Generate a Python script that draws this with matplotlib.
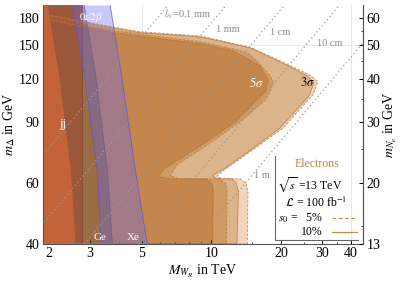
import numpy as np
import matplotlib
matplotlib.use('Agg')
import matplotlib.pyplot as plt
from matplotlib.ticker import FixedLocator, NullFormatter

plt.rcParams['font.family'] = ['Liberation Serif', 'DejaVu Serif']
plt.rcParams['mathtext.fontset'] = 'stix'

# sensitivity contours, M_WR in TeV, m_Delta in GeV
s3_5_M = [1.88, 3.32, 4.93, 8.96, 14.7, 20.4, 26.7, 28.8, 27.5, 20.4, 14.7, 11.7, 10.6, 11.1, 13.3, 14.1, 14.4, 14.3, 1.88]
s3_5_m = [185, 172, 164, 159.6, 148, 134, 123, 117.6, 108, 86.5, 73.8, 66.3, 62.9, 61.7, 61.7, 60.0, 56.5, 40, 40]

s3_10_M = [1.88, 3.32, 4.93, 8.96, 14.7, 20.4, 25.9, 27.7, 26.4, 19.8, 14.4, 11.5, 10.1, 10.6, 12.3, 12.8, 13.1, 12.9, 1.88]
s3_10_m = [184, 170.6, 163, 158.6, 147.4, 133, 122.4, 116.8, 107.1, 86.5, 73.8, 66.3, 62.9, 61.7, 61.7, 60.0, 56.5, 40, 40]

s5_5_M = [1.88, 3.85, 8.96, 12.4, 14.3, 16.2, 17.9, 18.5, 17.9, 17.1, 13.3, 9.60, 7.12, 6.65, 7.34, 10.9, 11.6, 11.7, 11.6, 1.88]
s5_5_m = [181, 165.1, 153.4, 146.4, 143, 132.5, 122.4, 117.6, 110.0, 104, 90.1, 77.3, 67.7, 62.9, 61.7, 61.7, 59.6, 56.5, 40, 40]

s5_10_M = [1.88, 3.85, 8.96, 12.4, 16.2, 17.6, 17.2, 15.9, 12.7, 8.96, 6.32, 5.84, 6.65, 9.50, 10.1, 10.2, 10.1, 1.88]
s5_10_m = [178.8, 163, 151.4, 144.5, 130.7, 119, 110.7, 105.0, 90.1, 76.8, 66.3, 62.5, 61.7, 61.7, 59.6, 56.5, 40, 40]

# dijet bound and 0nu2beta bands
jj_M_max = 2.77
band_m = [40, 65.5, 119, 196]
ge_left = [2.61, 2.49, 2.23, 1.98]
ge_right = [3.74, 3.56, 3.19, 2.83]
xe_left = [3.35, 3.22, 2.86, 2.51]
xe_right = [5.29, 4.70, 4.13, 3.66]

# decay length lines (end points at m_Delta = 40 and 196 GeV)
decay_labels = ['$l_N$=0.1 mm', '1 mm', '1 cm', '10 cm', '1 m']
decay_M_lo = [0.896, 1.59, 2.84, 4.90, 8.46]
decay_M_hi = [6.53, 11.6, 20.7, 35.7, 61.7]
decay_m_ends = [40, 196]
decay_label_M = [7.9, 11.8, 19.8, 32.5, 16.6]
decay_label_m = [184, 166, 163, 152, 62.9]

x_ticks = [2, 3, 5, 10, 20, 30, 40]
y_ticks = [40, 60, 90, 120, 150, 180]
yr_ticks = [40 / 3, 20, 30, 40, 50, 60]
yr_labels = ['13', '20', '30', '40', '50', '60']

fig = plt.figure(figsize=(4.0, 2.82), dpi=100)
ax = fig.add_axes([43 / 400, 1 - 244 / 282, 320 / 400, 239 / 282])
ax.set_xscale('log')
ax.set_yscale('log')
ax.set_xlim(1.88, 45.1)
ax.set_ylim(40, 196)

# faint grid lines that show in the white parts
for gx in [5, 40]:
	ax.axvline(gx, color='#e8e8e8', lw=0.7, zorder=0)
ax.axhline(150, color='#e8e8e8', lw=0.7, zorder=0)

contours = [(s3_5_M, s3_5_m, '#eed5bc', '--'),
			(s3_10_M, s3_10_m, '#dcb48c', '-'),
			(s5_5_M, s5_5_m, '#cf9a63', '--'),
			(s5_10_M, s5_10_m, '#c4864c', '-')]
for cm, cy, col, ls in contours:
	ax.fill(cm, cy, color=col, lw=0, zorder=1)
for cm, cy, col, ls in contours:
	ax.plot(cm, cy, color='#b87436', lw=0.6, ls=ls, dashes=(3, 2) if ls == '--' else (None, None),
			alpha=0.8, zorder=5)

ax.axvspan(1.0, jj_M_max, color='#c4623a', lw=0, zorder=2)
ax.axvline(jj_M_max, color='#9a4a2c', lw=0.6, zorder=2)
ax.fill_betweenx(band_m, ge_left, ge_right, color='#5a463c', alpha=0.38, lw=0, zorder=3)
ax.plot(ge_left, band_m, color='#5a463c', lw=0.5, alpha=0.5, zorder=3)
ax.plot(ge_right, band_m, color='#5a463c', lw=0.5, alpha=0.5, zorder=3)
ax.fill_betweenx(band_m, xe_left, xe_right, color='#6767f2', alpha=0.36, lw=0, zorder=3)
ax.plot(xe_left, band_m, color='#5555e0', lw=0.6, alpha=0.7, zorder=3)
ax.plot(xe_right, band_m, color='#5555e0', lw=0.6, alpha=0.7, zorder=3)

for lo, hi in zip(decay_M_lo, decay_M_hi):
	ax.plot([lo, hi], decay_m_ends, color='#999999', lw=0.9, ls=(0, (1, 2.2)), zorder=6)
for lab, lm, ly in zip(decay_labels, decay_label_M, decay_label_m):
	ax.text(lm, ly, lab, color='#8c8c8c', fontsize=7.5, ha='center', va='center', zorder=7)

ax.text(15.6, 116.8, r'$5\sigma$', color='white', fontsize=9, ha='center', va='center', zorder=7)
ax.text(26.1, 116.8, r'$3\sigma$', color='black', fontsize=9, ha='center', va='center', zorder=7)
ax.text(3.03, 181, r'$0\nu2\beta$', color='white', fontsize=8, ha='center', va='center', zorder=7)
ax.text(2.28, 88.9, 'jj', color='white', fontsize=9, ha='center', va='center', zorder=7)
ax.text(3.32, 41.9, 'Ge', color='white', fontsize=8, ha='center', va='center', zorder=7)
ax.text(4.60, 41.9, 'Xe', color='white', fontsize=8, ha='center', va='center', zorder=7)

# legend box
ax.plot([0.725, 0.725, 0.985], [0.368, 0.017, 0.017], color='#666666', lw=0.8,
		transform=ax.transAxes, zorder=8)
ax.text(0.856, 0.335, 'Electrons', color='#c68040', fontsize=8.5, ha='center', va='center',
		transform=ax.transAxes, zorder=8)
ax.text(0.834, 0.247, r'$\sqrt{s}$ =13 TeV', fontsize=8.5, ha='center', va='center',
		transform=ax.transAxes, zorder=8)
ax.text(0.853, 0.172, r'$\mathcal{L}$ = 100 fb$^{-1}$', fontsize=8.5, ha='center', va='center',
		transform=ax.transAxes, zorder=8)
ax.text(0.875, 0.109, r'$s_0$ =   5%', fontsize=8.5, ha='right', va='center',
		transform=ax.transAxes, zorder=8)
ax.text(0.875, 0.05, '10%', fontsize=8.5, ha='right', va='center',
		transform=ax.transAxes, zorder=8)
ax.plot([0.903, 0.981], [0.109, 0.109], color='#d08a48', lw=0.9, dashes=(3, 2),
		transform=ax.transAxes, zorder=8)
ax.plot([0.903, 0.981], [0.05, 0.05], color='#d08a48', lw=0.9,
		transform=ax.transAxes, zorder=8)

ax.spines['top'].set_visible(False)
for s in ['left', 'bottom', 'right']:
	ax.spines[s].set_color('#555555')
	ax.spines[s].set_linewidth(0.8)
	ax.spines[s].set_zorder(10)

ax.xaxis.set_major_locator(FixedLocator(x_ticks))
ax.xaxis.set_ticklabels([str(t) for t in x_ticks])
ax.xaxis.set_minor_locator(FixedLocator([2.5, 4, 6, 7, 8, 9, 15, 25, 35]))
ax.xaxis.set_minor_formatter(NullFormatter())
ax.yaxis.set_major_locator(FixedLocator(y_ticks))
ax.yaxis.set_ticklabels([str(t) for t in y_ticks])
ax.yaxis.set_minor_locator(FixedLocator([50, 70, 80, 100, 110, 130, 140, 160, 170, 190]))
ax.yaxis.set_minor_formatter(NullFormatter())
ax.tick_params(which='both', direction='in', labelsize=10, top=False, right=False)
ax.tick_params(which='major', length=3, width=0.7, pad=2.5)
ax.tick_params(which='minor', length=1.5, width=0.5)

ax2 = ax.twinx()
ax2.set_yscale('log')
ax2.set_ylim(40 / 3, 196 / 3)
ax2.yaxis.set_major_locator(FixedLocator(yr_ticks))
ax2.yaxis.set_ticklabels(yr_labels)
ax2.yaxis.set_minor_locator(FixedLocator([15, 25, 35, 45, 55]))
ax2.yaxis.set_minor_formatter(NullFormatter())
ax2.tick_params(which='both', direction='in', labelsize=10)
ax2.tick_params(which='major', length=3, width=0.7, pad=2.5)
ax2.tick_params(which='minor', length=1.5, width=0.5)
for s in ['top', 'left', 'bottom']:
	ax2.spines[s].set_visible(False)
ax2.spines['right'].set_color('#555555')

ax.set_xlabel(r'$M_{W_R}$ in TeV', fontsize=10, labelpad=2)
ax.set_ylabel(r'$m_\Delta$ in GeV', fontsize=10, labelpad=1)
ax2.set_ylabel(r'$m_{N_e}$ in GeV', fontsize=10, labelpad=1)

fig.savefig('out.png', dpi=100)
